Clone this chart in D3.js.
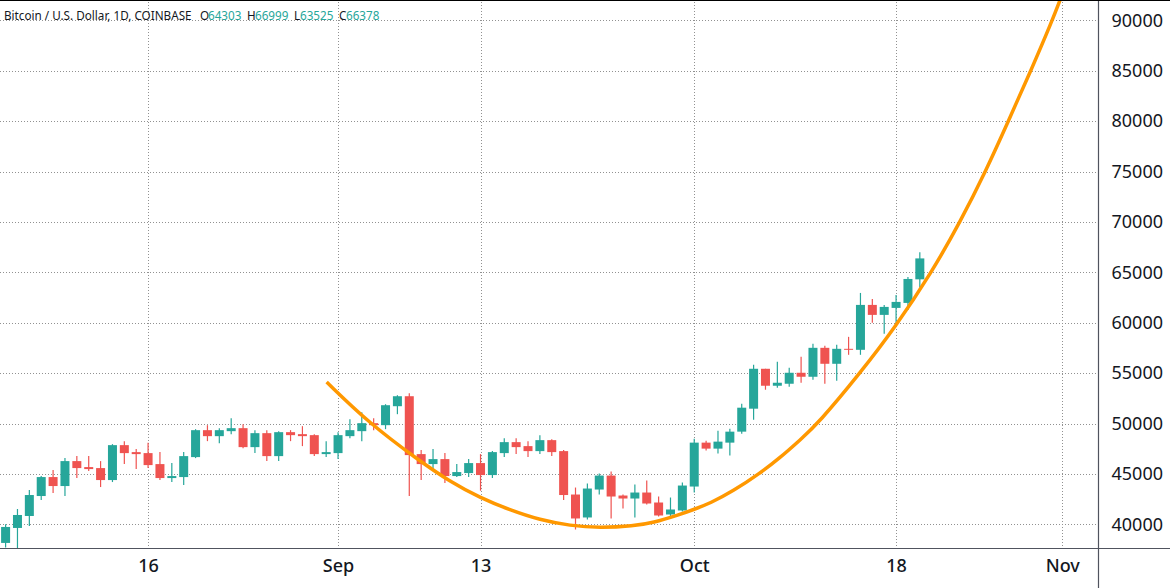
<!DOCTYPE html>
<html>
<head>
<meta charset="utf-8">
<script src="https://cdn.jsdelivr.net/npm/d3@7/dist/d3.min.js"></script>
<style>
  html, body { margin: 0; padding: 0; background: #fff; }
  svg { display: block; }
  text { font-family: "Noto Sans", sans-serif; fill: #131722; }
</style>
</head>
<body>
<script>
// one candle per day, first one is Aug 4
var dates = ["Aug 4","Aug 5","Aug 6","Aug 7","Aug 8","Aug 9","Aug 10","Aug 11","Aug 12","Aug 13","Aug 14","Aug 15","Aug 16","Aug 17","Aug 18","Aug 19","Aug 20","Aug 21","Aug 22","Aug 23","Aug 24","Aug 25","Aug 26","Aug 27","Aug 28","Aug 29","Aug 30","Aug 31",
  "Sep 1","Sep 2","Sep 3","Sep 4","Sep 5","Sep 6","Sep 7","Sep 8","Sep 9","Sep 10","Sep 11","Sep 12","Sep 13","Sep 14","Sep 15","Sep 16","Sep 17","Sep 18","Sep 19","Sep 20","Sep 21","Sep 22","Sep 23","Sep 24","Sep 25","Sep 26","Sep 27","Sep 28","Sep 29","Sep 30",
  "Oct 1","Oct 2","Oct 3","Oct 4","Oct 5","Oct 6","Oct 7","Oct 8","Oct 9","Oct 10","Oct 11","Oct 12","Oct 13","Oct 14","Oct 15","Oct 16","Oct 17","Oct 18","Oct 19","Oct 20"];
var opens = [38152,39637,40825,42805,44686,43795,46270,45676,45577,44389,47854,47161,47062,45973,44587,44686,46666,49339,48745,49240,49537,47656,49042,46765,49142,48944,48845,46964,
  47063,48746,49241,50033,49835,51716,52706,46964,45974,46469,44786,45083,46073,44885,47063,48152,47756,47261,48350,47261,42954,40677,43449,44835,42855,42558,43152,42162,40974,41370,
  43746,48102,47508,48102,49192,51469,55429,53746,53944,55033,54637,57508,55924,57409,57310,61765,60775,61468,61963,64303];
var highs = [40000,41518,43399,44785,45379,46567,46765,46765,46270,47953,48250,47458,48085,47161,46072,47161,49438,49834,49537,50527,49933,49339,49339,49240,49340,49736,48944,48251,
  49142,50429,51122,50528,51914,52805,53003,47360,47459,47063,45974,46469,46964,47261,48548,48548,48251,48845,48449,47360,43647,44043,45033,45231,42954,43944,44340,42756,42657,44142,
  48498,48300,49290,49488,51964,55825,55429,56122,55528,56617,57904,57706,57805,58597,62953,62359,61765,62755,64537,66999];
var lows = [37700,37400,39835,42409,43102,42805,44587,45280,43696,44191,45973,45478,45577,44389,44191,43894,46567,48250,48052,48943,47557,47062,46270,46270,48250,47756,46766,46667,
  46469,48548,48251,49340,49439,50924,42806,44390,45479,44093,44687,44687,43334,44588,46667,46964,46667,46964,46766,42410,39489,40479,42954,40578,41568,40677,41964,40776,40677,41271,
  43152,47310,47013,46815,48994,50380,53350,53548,53647,54043,54340,53944,54241,56815,56815,59983,58894,59686,61270,63525];
var closes = [39736,40924,42904,44686,43795,46270,45577,45478,44389,47854,47062,46963,45874,44587,44785,46765,49339,48745,49339,49537,47656,49042,46765,49141,48845,48746,46964,47162,
  48845,49340,50033,49835,51815,52706,46865,45974,46469,44786,45182,46073,44885,47162,48152,47657,47261,48350,47162,42905,40578,43548,44835,42756,42558,43152,42063,40875,41469,43845,
  48102,47508,48201,49191,51568,55429,53746,54043,55033,54637,57508,55924,57409,57343,61765,60775,61567,62062,64339,66378];

// hand drawn parabola on the chart, day number counted from Aug 4
var curveDays = [27.04,30.63,34.76,37.43,39.96,42.48,45.01,47.54,50.06,52.87,54.55,56.66,58,59.33,61.29,63.54,65.22,66.91,68.45,71.96,74.93,78,80.38,82.55,84.45,86.34,88.16,88.81];
var curvePrices = [54117,50020,46379,44226,42639,41419,40427,39861,39633,39831,40159,40923,41488,42083,43304,45060,46597,48363,50020,54980,59544,65000,69960,75020,79980,84970,90000,92014];

var priceTicks = [40000,45000,50000,55000,60000,65000,70000,75000,80000,85000,90000];
var timeTickDays = [12,28,40,58,75,89];
var timeTickLabels = ["16","Sep","13","Oct","18","Nov"];

var w = 1170;
var h = 588;
var plotRight = 1098.5;
var plotBottom = 548.5;
var up = "#26a69a";
var down = "#ef5350";

var x = d3.scaleLinear().domain([0, 89]).range([5.6, 1062.3]);
var y = d3.scaleLinear().domain([40000, 90000]).range([524.3, 20.3]);

var svg = d3.select("body").append("svg")
  .attr("width", w)
  .attr("height", h);

svg.append("defs").append("clipPath").attr("id", "plot")
  .append("rect").attr("x", 0).attr("y", 1).attr("width", plotRight).attr("height", plotBottom - 1);

// grid first so everything sits on top of it
var gridX = svg.append("g")
  .attr("transform", "translate(0," + plotBottom + ")")
  .call(d3.axisBottom(x).tickValues(timeTickDays).tickSize(-plotBottom).tickFormat(""));
var gridY = svg.append("g")
  .attr("transform", "translate(" + plotRight + ",0)")
  .call(d3.axisLeft(y).tickValues(priceTicks).tickSize(plotRight).tickFormat(""));
[gridX, gridY].forEach((g) => {
  g.select(".domain").remove();
  g.selectAll("line")
    .attr("stroke", "#919191")
    .attr("stroke-width", 1)
    .attr("shape-rendering", "crispEdges")
    .attr("stroke-dasharray", "1 2");
});

var candles = svg.append("g").attr("clip-path", "url(#plot)")
  .selectAll(".candle")
  .data(dates)
  .enter()
  .append("g")
  .classed("candle", true)
  .attr("data-date", (d) => d);

candles.append("line")
  .attr("x1", (d, i) => x(i))
  .attr("x2", (d, i) => x(i))
  .attr("y1", (d, i) => y(highs[i]))
  .attr("y2", (d, i) => y(lows[i]))
  .attr("stroke-width", 1.2)
  .attr("stroke", (d, i) => closes[i] >= opens[i] ? up : down);

candles.append("rect")
  .attr("x", (d, i) => x(i) - 4.5)
  .attr("width", 9)
  .attr("y", (d, i) => y(Math.max(opens[i], closes[i])))
  .attr("height", (d, i) => Math.max(1, Math.abs(y(opens[i]) - y(closes[i]))))
  .attr("fill", (d, i) => closes[i] >= opens[i] ? up : down);

var curve = d3.line()
  .x((d) => x(d))
  .y((d, i) => y(curvePrices[i]))
  .curve(d3.curveBasis);

svg.append("path")
  .attr("clip-path", "url(#plot)")
  .attr("d", curve(curveDays))
  .attr("fill", "none")
  .attr("stroke", "#ff9800")
  .attr("stroke-width", 3.5);

// axes
var axisRight = svg.append("g")
  .attr("transform", "translate(" + plotRight + ",0)")
  .call(d3.axisRight(y).tickValues(priceTicks).tickSize(0).tickPadding(13).tickFormat(d3.format("d")));
var axisBottom = svg.append("g")
  .attr("transform", "translate(0," + plotBottom + ")")
  .call(d3.axisBottom(x).tickValues(timeTickDays).tickSize(0).tickPadding(11)
    .tickFormat((d, i) => timeTickLabels[i]));

axisRight.select(".domain").attr("d", "M0,0V" + h);
axisBottom.select(".domain").attr("d", "M0,0H" + w);
[axisRight, axisBottom].forEach((g) => {
  g.attr("font-family", null).attr("font-size", null);
  g.select(".domain").attr("stroke", "#50535e").attr("stroke-width", 1.2);
  g.selectAll("text").attr("font-size", 18).attr("fill", "#131722");
});
axisBottom.selectAll("text").attr("font-weight", 500);

// top edge of the screenshot
svg.append("rect").attr("width", w).attr("height", 1).attr("fill", "#000");

// legend line
var legendParts = [
  {t: "Bitcoin / U.S. Dollar, 1D, COINBASE", x: 4, c: "#131722"},
  {t: "O", x: 200, c: "#131722"},
  {t: "64303", x: 208, c: up},
  {t: "H", x: 247, c: "#131722"},
  {t: "66999", x: 255, c: up},
  {t: "L", x: 294, c: "#131722"},
  {t: "63525", x: 300, c: up},
  {t: "C", x: 339, c: "#131722"},
  {t: "66378", x: 346, c: up}
];
svg.append("g").selectAll("text")
  .data(legendParts)
  .enter()
  .append("text")
  .attr("x", (d) => d.x)
  .attr("y", 20)
  .attr("font-size", 11.7)
  .style("fill", (d) => d.c)
  .text((d) => d.t);
</script>
</body>
</html>
